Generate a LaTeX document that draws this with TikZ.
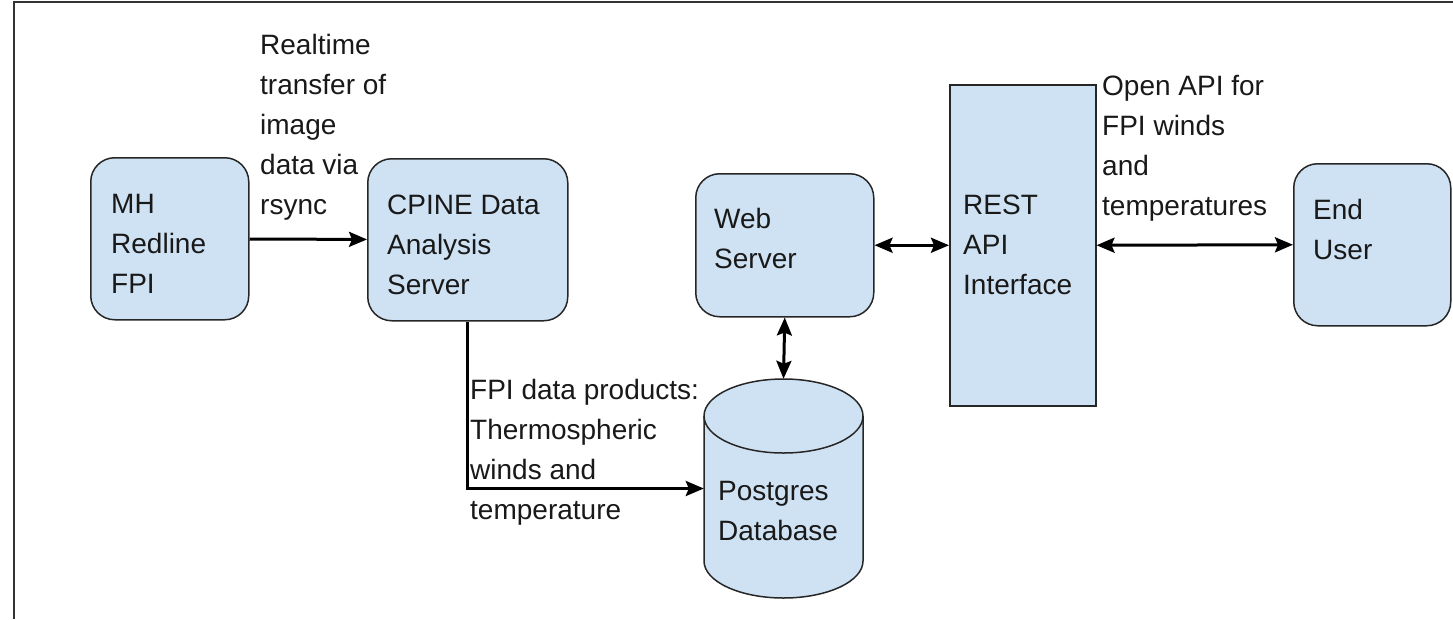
\documentclass[tikz,border=0pt]{standalone}
\usepackage{fontspec}
\setmainfont{Liberation Sans}
\usetikzlibrary{arrows.meta}
\definecolor{boxfill}{HTML}{CFE2F3}
\definecolor{edge}{HTML}{262626}
\newcommand\ml[1]{\begin{tabular}[t]{@{}l@{}}#1\end{tabular}}
\tikzset{
  box/.style={draw=edge, fill=boxfill, line width=1.5pt, rounded corners=24pt,
    anchor=north west, inner sep=0pt},
  plainbox/.style={draw=edge, fill=boxfill, line width=1.5pt,
    anchor=north west, inner sep=0pt},
  txt/.style={anchor=base west, inner sep=0pt, text=black!90,
    font=\fontsize{28}{40}\selectfont},
  tip/.style={Stealth[length=18pt,width=15pt,inset=3pt]},
  link/.style={line width=3pt, draw=black, -{Stealth[length=18pt,width=15pt,inset=3pt]}},
  both/.style={line width=3pt, draw=black,
    {Stealth[length=18pt,width=15pt,inset=3pt]}-{Stealth[length=18pt,width=15pt,inset=3pt]}},
  frame/.style={line width=2pt, draw=black!80}
}
\begin{document}
\begin{tikzpicture}[x=1pt, y=-1pt]
  \useasboundingbox (0,0) rectangle (1453,619);
  \fill[white] (0,0) rectangle (1453,619);

  % outer frame (top and left edges)
  \draw[frame] (14,619) -- (14,2) -- (1453,2);

  % components
  \node[box, minimum width=158pt, minimum height=162pt] (mh) at (90,157) {};
  \node[box, minimum width=200pt, minimum height=162pt] (cp) at (367,158) {};
  \node[box, minimum width=178pt, minimum height=143pt] (web) at (695,173) {};
  \node[plainbox, minimum width=146pt, minimum height=321pt] (rest) at (949,84) {};
  \node[box, minimum width=157pt, minimum height=162pt] (eu) at (1293,163) {};

  % database cylinder
  \path[draw=edge, fill=boxfill, line width=1.5pt]
    (704,416) -- (704,561)
    arc[start angle=180, end angle=0, x radius=79.5, y radius=37]
    -- (863,416)
    arc[start angle=0, end angle=-180, x radius=79.5, y radius=37] -- cycle;
  \draw[edge, line width=1.5pt]
    (704,416) arc[start angle=180, end angle=0, x radius=79.5, y radius=37];
  \node[minimum width=159pt, minimum height=219pt, inner sep=0pt] (db) at (783.5,488.5) {};

  % labels inside components
  \node[txt] (mh-t) at (111,213) {\ml{MH\\Redline\\FPI}};
  \node[txt] (cp-t) at (387,214) {\ml{CPINE Data\\Analysis\\Server}};
  \node[txt] (web-t) at (714,228) {\ml{Web\\Server}};
  \node[txt] (rest-t) at (963,214) {\ml{REST\\API\\Interface}};
  \node[txt] (eu-t) at (1313,219) {\ml{End\\User}};
  \node[txt] (db-t) at (718,500) {\ml{Postgres\\Database}};

  % connector labels
  \node[txt] (rt-t) at (260,54) {\ml{Realtime\\transfer of\\image\\data via\\rsync}};
  \node[txt] (fp-t) at (470,399) {\ml{FPI data products:\\Thermospheric\\winds and\\temperature}};
  \node[txt] (api-t) at (1102,95) {\ml{Open API for\\FPI winds\\and\\temperatures}};

  % connectors
  \draw[link] (mh) -- (cp);
  \draw[link] (cp.south) |- (db);
  \draw[both] (web.south) -- (db.north);
  \draw[both] (web.east) -- (rest.west);
  \draw[both] (rest.east) -- (eu.west);
\end{tikzpicture}
\end{document}
